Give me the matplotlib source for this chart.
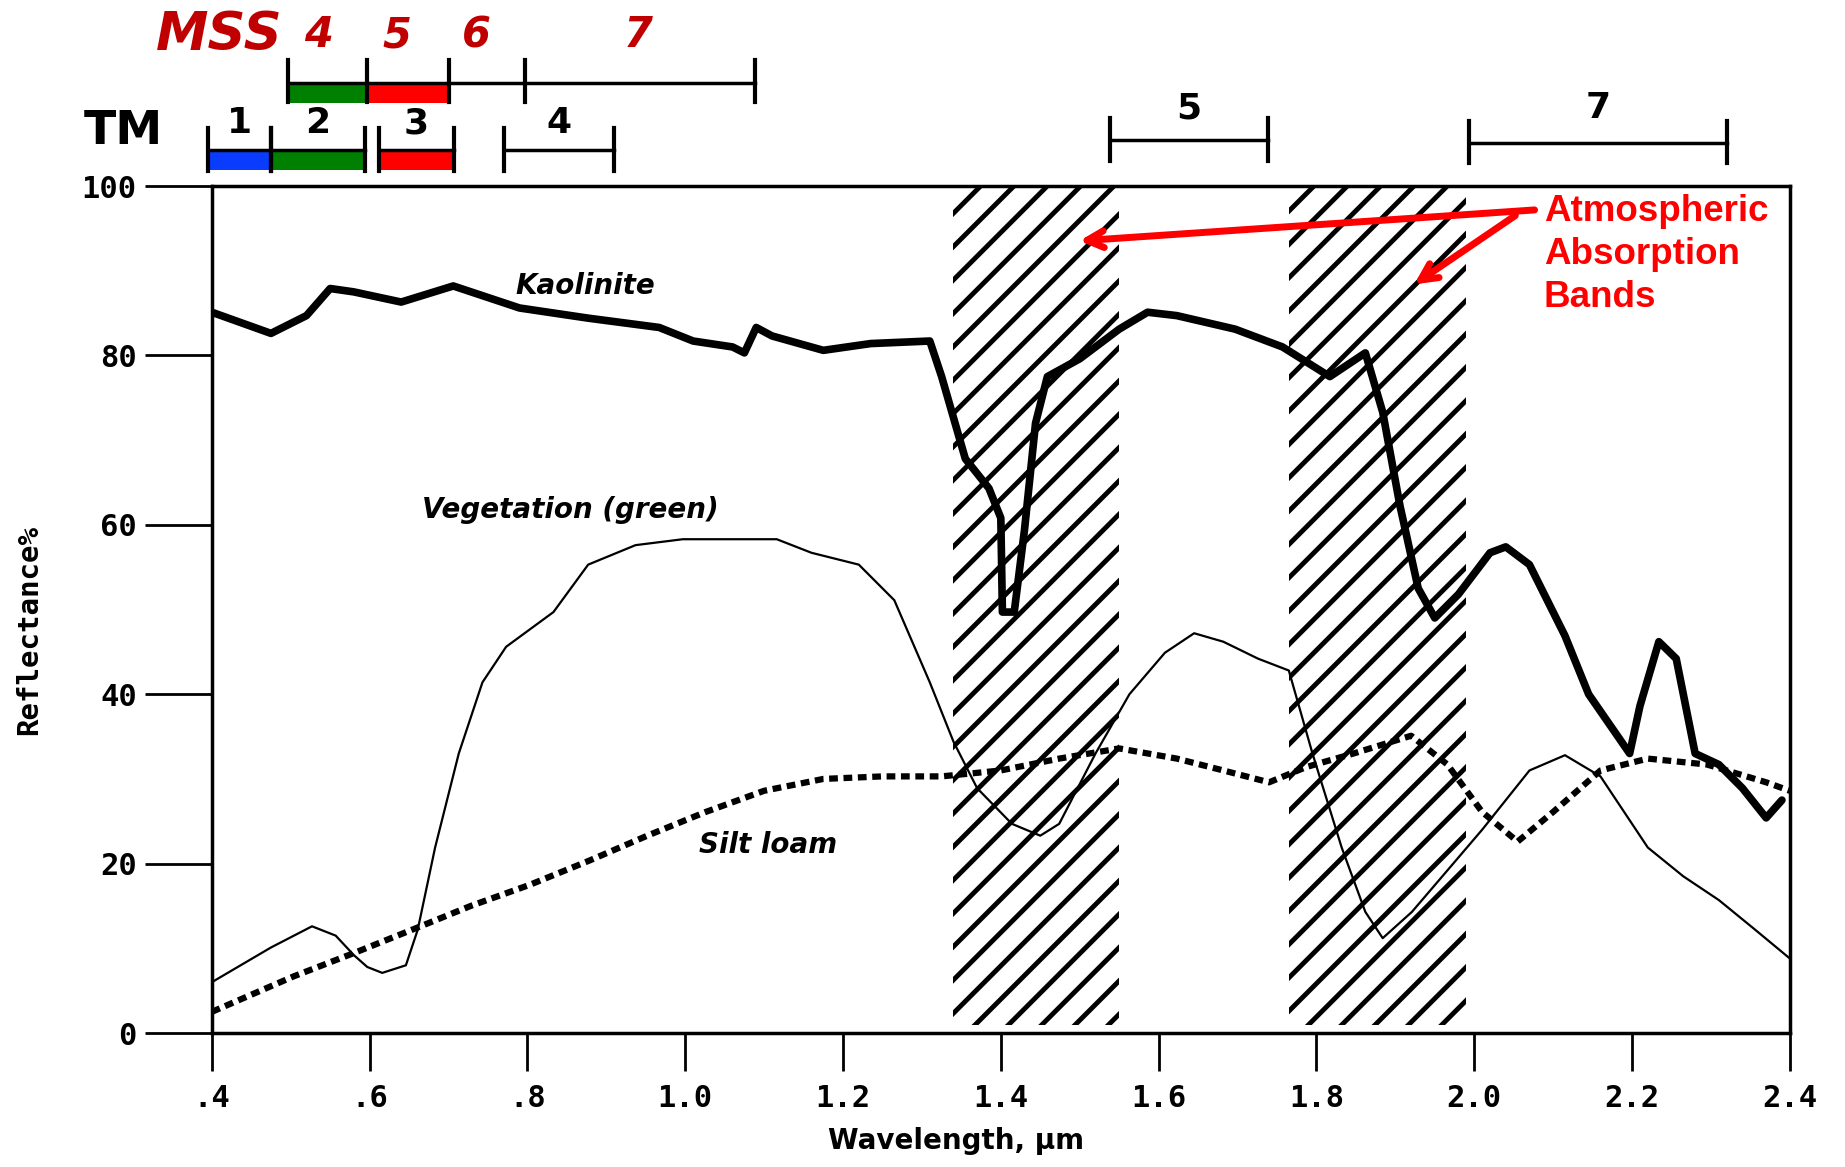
import numpy as np
import matplotlib
matplotlib.use("Agg")
import matplotlib.pyplot as plt

# ---- spectral curves (wavelength um, reflectance %) ----
kao_wl = [0.40, 0.475, 0.52, 0.55, 0.58, 0.64, 0.706, 0.79, 0.877, 0.967, 1.01, 1.06, 1.075,
          1.09, 1.11, 1.175, 1.235, 1.31, 1.325, 1.355, 1.385, 1.40, 1.402, 1.417, 1.43,
          1.444, 1.459, 1.50, 1.55, 1.586, 1.623, 1.697, 1.757, 1.817, 1.862, 1.884, 1.906,
          1.929, 1.95, 1.98, 2.02, 2.04, 2.07, 2.115, 2.145, 2.197, 2.21, 2.234, 2.256,
          2.28, 2.31, 2.34, 2.37, 2.39]
kao_rf = [85.1, 82.6, 84.7, 87.9, 87.5, 86.3, 88.2, 85.6, 84.4, 83.3, 81.7, 81.0, 80.3,
          83.3, 82.3, 80.6, 81.4, 81.7, 77.5, 67.8, 64.3, 60.8, 49.7, 49.7, 59.4,
          72.0, 77.5, 79.6, 83.1, 85.1, 84.7, 83.1, 81.0, 77.5, 80.3, 73.3, 62.2,
          52.5, 49.0, 51.8, 56.7, 57.4, 55.3, 46.9, 40.0, 33.0, 38.6, 46.2, 44.2,
          33.0, 31.7, 28.9, 25.4, 27.5]

veg_wl = [0.40, 0.475, 0.527, 0.557, 0.58, 0.597, 0.616, 0.646, 0.661, 0.683, 0.713, 0.743,
          0.773, 0.833, 0.877, 0.937, 0.997, 1.116, 1.16, 1.22, 1.265, 1.31, 1.34, 1.37,
          1.414, 1.45, 1.474, 1.52, 1.563, 1.608, 1.645, 1.682, 1.726, 1.765, 1.795, 1.832,
          1.862, 1.884, 1.921, 1.966, 2.01, 2.07, 2.115, 2.16, 2.22, 2.265, 2.31, 2.356, 2.40]
veg_rf = [6.0, 10.1, 12.6, 11.5, 9.2, 7.8, 7.1, 8.0, 12.2, 21.9, 33.0, 41.4,
          45.6, 49.7, 55.3, 57.6, 58.3, 58.3, 56.7, 55.3, 51.1, 41.4, 34.4, 28.9,
          24.7, 23.3, 24.7, 33.0, 40.0, 44.9, 47.2, 46.2, 44.2, 42.8, 33.0, 21.9,
          14.3, 11.2, 14.3, 19.2, 24.0, 31.0, 32.8, 30.3, 21.9, 18.5, 15.7, 12.2, 8.8]

silt_wl = [0.40, 0.504, 0.579, 0.654, 0.728, 0.803, 0.877, 0.952, 1.026, 1.10, 1.175, 1.25,
           1.325, 1.40, 1.474, 1.55, 1.623, 1.682, 1.74, 1.787, 1.847, 1.92, 1.966, 2.01,
           2.055, 2.10, 2.16, 2.22, 2.295, 2.37, 2.40]
silt_rf = [2.5, 6.7, 9.4, 12.2, 15.0, 17.5, 20.3, 23.3, 26.1, 28.6, 30.0, 30.3,
           30.3, 31.0, 32.4, 33.6, 32.4, 31.0, 29.6, 31.4, 33.0, 35.1, 31.7, 26.1,
           22.6, 26.1, 31.0, 32.4, 31.7, 29.6, 28.6]

# atmospheric absorption bands (um)
absorb_bands = [(1.34, 1.55), (1.765, 1.99)]

# sensor bands
mss_names = ["4", "5", "6", "7"]
mss_edges = [0.497, 0.597, 0.70, 0.797, 1.089]
mss_fill = ["green", "red", None, None]
tm_names = ["1", "2", "3", "4", "5", "7"]
tm_lo = [0.395, 0.475, 0.612, 0.77, 1.538, 1.993]
tm_hi = [0.475, 0.594, 0.707, 0.91, 1.738, 2.32]
tm_fill = ["#0a3cff", "green", "red", None, None, None]

xticks = [0.4, 0.6, 0.8, 1.0, 1.2, 1.4, 1.6, 1.8, 2.0, 2.2, 2.4]
xtick_labels = [".4", ".6", ".8", "1.0", "1.2", "1.4", "1.6", "1.8", "2.0", "2.2", "2.4"]
yticks = [0, 20, 40, 60, 80, 100]

plt.rcParams['hatch.linewidth'] = 3.5

fig = plt.figure(figsize=(18.45, 11.67), dpi=100)
ax = fig.add_axes([0.1148, 0.1148, 0.8553, 0.7258])
ax.set_xlim(0.4, 2.4)
ax.set_ylim(0, 100)

for lo, hi in absorb_bands:
    ax.axvspan(lo, hi, ymin=0.01, ymax=1.0, facecolor="none", edgecolor="black",
               hatch="/", linewidth=0)

ax.plot(kao_wl, kao_rf, color="black", lw=5.5, solid_joinstyle="round", solid_capstyle="round")
ax.plot(veg_wl, veg_rf, color="black", lw=1.6)
ax.plot(silt_wl, silt_rf, color="black", lw=4.5, linestyle=(0, (1.4, 0.9)))

for s in ax.spines.values():
    s.set_linewidth(2.5)

ax.set_xticks(xticks)
ax.set_xticklabels(xtick_labels, fontfamily="DejaVu Sans Mono", fontweight="bold", fontsize=22)
ax.set_yticks(yticks)
ax.set_yticklabels([str(v) for v in yticks], fontfamily="DejaVu Sans Mono", fontweight="bold", fontsize=22)
ax.tick_params(axis="y", direction="out", length=48, width=2, pad=6)
ax.tick_params(axis="x", direction="out", length=27, width=2, pad=10)

fig.text(0.016, 0.46, "Reflectance%", rotation=90, ha="center", va="center",
         fontfamily="DejaVu Sans Mono", fontweight="bold", fontsize=21)
fig.text(0.518, 0.022, "Wavelength, \u00b5m", ha="center", va="center",
         fontfamily="DejaVu Sans", fontweight="bold", fontsize=20)

# curve labels
lab = dict(fontstyle="italic", fontweight="semibold", fontsize=20, ha="center", va="center")
ax.text(0.873, 88.2, "Kaolinite", **lab)
ax.text(0.855, 61.8, "Vegetation (green)", **lab)
ax.text(1.105, 22.2, "Silt loam", **lab)

# ---- sensor band bars above the plot ----
mss_red = "#c00000"
mss_y = 112.2
for i in range(len(mss_names)):
    lo, hi = mss_edges[i], mss_edges[i + 1]
    if mss_fill[i]:
        ax.fill_between([lo, hi], mss_y - 2.4, mss_y, color=mss_fill[i], clip_on=False, lw=0)
ax.plot([mss_edges[0], mss_edges[-1]], [mss_y, mss_y], color="black", lw=2.5, clip_on=False)
for e in mss_edges:
    ax.plot([e, e], [mss_y - 2.3, mss_y + 2.7], color="black", lw=3, clip_on=False)
mss_label_x = [0.535, 0.635, 0.735, 0.94]
for name, x in zip(mss_names, mss_label_x):
    ax.text(x, 117.8, name, color=mss_red, fontsize=30, fontweight="bold", fontstyle="italic",
            ha="center", va="center", clip_on=False)
ax.text(0.41, 117.8, "MSS", color=mss_red, fontsize=38, fontweight="bold", fontstyle="italic",
        ha="center", va="center", clip_on=False)

tm_y = [104.2, 104.2, 104.2, 104.2, 105.4, 105.1]
tm_label_y = [107.4, 107.4, 107.4, 107.4, 109.2, 109.2]
for i, name in enumerate(tm_names):
    lo, hi, y = tm_lo[i], tm_hi[i], tm_y[i]
    if tm_fill[i]:
        ax.fill_between([lo, hi], y - 2.3, y, color=tm_fill[i], clip_on=False, lw=0)
    ax.plot([lo, hi], [y, y], color="black", lw=2.5, clip_on=False)
    for e in (lo, hi):
        ax.plot([e, e], [y - 2.4, y + 2.6], color="black", lw=3, clip_on=False)
    ax.text((lo + hi) / 2, tm_label_y[i], name, fontsize=26, fontweight="bold",
            ha="center", va="center", clip_on=False)
ax.text(0.288, 106.4, "TM", fontsize=34, fontweight="bold", ha="center", va="center", clip_on=False)

# ---- atmospheric absorption annotation ----
ax.text(2.088, 91.9, "Atmospheric\nAbsorption\nBands", color="#ff0000", fontsize=26.5,
        fontweight="bold", family=["Liberation Sans"],
        ha="left", va="center", linespacing=1.3)
arr = dict(arrowstyle="->,head_length=1.2,head_width=0.6", color="#ff0000", lw=5)
ax.annotate("", xy=(1.496, 93.5), xytext=(2.08, 97.2), arrowprops=arr)
ax.annotate("", xy=(1.921, 88.2), xytext=(2.055, 96.7), arrowprops=arr)

fig.savefig("out.png", dpi=100)
